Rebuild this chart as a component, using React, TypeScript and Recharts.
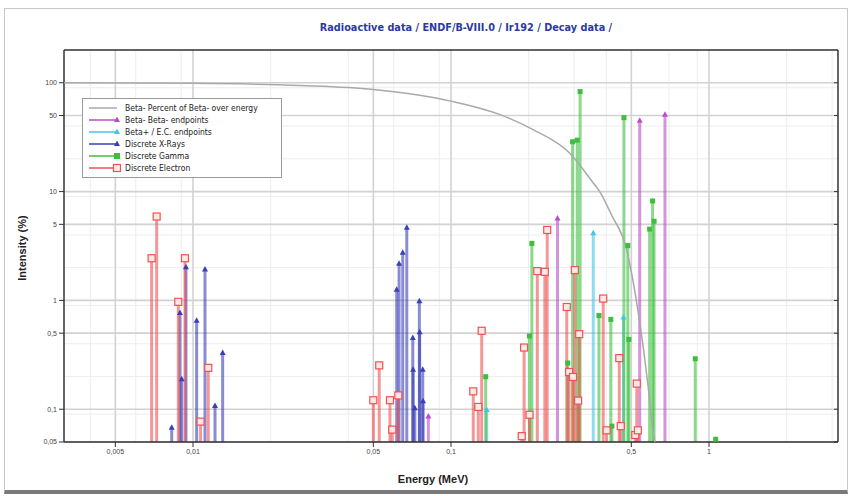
import React from 'react';
import { ComposedChart, Scatter, XAxis, YAxis, CartesianGrid, ErrorBar, Legend } from 'recharts';

const BASE = 0.05;
const X_MIN = Math.pow(10, -2.5);
const X_MAX = Math.pow(10, 0.5);

// Beta- percent over energy (gray curve)
const curveE = [0.00316, 0.01, 0.026, 0.05, 0.1, 0.155, 0.208, 0.288, 0.356, 0.377, 0.419, 0.478, 0.524, 0.557, 0.58, 0.61, 0.617];
const curveI = [99.8, 98.8, 94.4, 86.8, 67.8, 51, 37.1, 22.6, 12, 10, 6.1, 3.0, 0.97, 0.36, 0.166, 0.058, 0.05];

// Beta- endpoints
const betaMinusE = [0.0817, 0.2587, 0.5388, 0.6751];
const betaMinusI = [0.085, 5.6, 44.4, 50.4];

// Beta+ / E.C. endpoints
const betaPlusE = [0.1375, 0.356, 0.466];
const betaPlusI = [0.0975, 4.1, 0.69];

// Discrete X-rays
const xrayE = [0.00827, 0.0089, 0.00904, 0.00939, 0.01033, 0.01113, 0.01217, 0.01303, 0.0616, 0.0629, 0.065, 0.0674, 0.0711, 0.0713, 0.0724, 0.0754, 0.0756, 0.0777, 0.0779];
const xrayI = [0.067, 0.76, 0.187, 2.0, 0.645, 1.9, 0.106, 0.325, 1.24, 2.15, 2.71, 4.6, 0.447, 0.228, 0.101, 0.97, 0.504, 0.228, 0.117];

// Discrete gamma
const gammaE = [0.1363, 0.2013, 0.2058, 0.2833, 0.296, 0.3085, 0.3165, 0.3745, 0.4165, 0.4205, 0.4681, 0.4846, 0.4891, 0.5886, 0.6044, 0.6125, 0.8845, 1.0615];
const gammaI = [0.199, 0.471, 3.34, 0.266, 28.7, 29.7, 82.9, 0.726, 0.669, 0.07, 47.8, 3.19, 0.438, 4.52, 8.2, 5.34, 0.291, 0.053];

// Discrete electrons
const electronE = [0.00691, 0.00723, 0.00877, 0.00931, 0.0107, 0.01146, 0.05, 0.0527, 0.058, 0.0592, 0.0625, 0.122, 0.1276, 0.1315, 0.188, 0.192, 0.2015, 0.216, 0.231, 0.236, 0.281, 0.287, 0.297, 0.302, 0.311, 0.314, 0.389, 0.401, 0.449, 0.455, 0.518, 0.525, 0.53];
const electronI = [2.44, 5.9, 0.97, 2.44, 0.077, 0.24, 0.121, 0.253, 0.121, 0.065, 0.134, 0.146, 0.105, 0.526, 0.0566, 0.369, 0.089, 1.86, 1.83, 4.44, 0.87, 0.22, 0.198, 1.9, 0.12, 0.49, 1.04, 0.064, 0.295, 0.07, 0.058, 0.172, 0.064];

const xTicks = [0.005, 0.01, 0.05, 0.1, 0.5, 1];
const yTicks = [0.05, 0.1, 0.5, 1, 5, 10, 50, 100];
const xMinor = [0.004, 0.006, 0.007, 0.008, 0.009, 0.02, 0.03, 0.04, 0.06, 0.07, 0.08, 0.09, 0.2, 0.3, 0.4, 0.6, 0.7, 0.8, 0.9, 2, 3];
const yMinor = [0.06, 0.07, 0.08, 0.09, 0.2, 0.3, 0.4, 0.6, 0.7, 0.8, 0.9, 2, 3, 4, 6, 7, 8, 9, 20, 30, 40, 60, 70, 80, 90, 200];

const COLORS = {
  curve: '#a9a9a9',
  betaMinus: '#b94fc6',
  betaPlus: '#46c4e4',
  xray: '#3a3fb6',
  gamma: '#3dbf3d',
  electron: '#ef5252',
};

const FONT = "'Liberation Sans Narrow', 'DejaVu Sans Condensed', 'Liberation Sans', sans-serif";
const LABEL_FONT = "'Liberation Sans', Arial, sans-serif";

const stems = (e: number[], v: number[]) => e.map((x, i) => ({ e: x, v: v[i], stem: [v[i] - BASE, 0] }));
const curve = curveE.map((x, i) => ({ e: x, v: curveI[i] }));

const fmt = (n: number) => String(n).replace('.', ',');

const triangle = (color: string) => (p: any) => (
  <polygon points={`${p.cx},${p.cy - 4} ${p.cx - 3},${p.cy + 1.5} ${p.cx + 3},${p.cy + 1.5}`} fill={color} />
);
const filledSquare = (p: any) => <rect x={p.cx - 2.5} y={p.cy - 2.5} width={5} height={5} fill={COLORS.gamma} />;
const openSquare = (p: any) => (
  <rect x={p.cx - 3.5} y={p.cy - 3.5} width={7} height={7} fill="#ffe8e8" stroke={COLORS.electron} strokeWidth={1.2} />
);

const legendRows = [
  { name: 'Beta- Percent of Beta- over energy', color: COLORS.curve, mark: 'none' },
  { name: 'Beta- Beta- endpoints', color: COLORS.betaMinus, mark: 'tri' },
  { name: 'Beta+ / E.C. endpoints', color: COLORS.betaPlus, mark: 'tri' },
  { name: 'Discrete X-Rays', color: COLORS.xray, mark: 'tri' },
  { name: 'Discrete Gamma', color: COLORS.gamma, mark: 'square' },
  { name: 'Discrete Electron', color: COLORS.electron, mark: 'open' },
];

const LegendBox = () => (
  <div style={{ border: '1px solid #9a9a9a', background: '#fff', padding: '3px 4px', width: 190, fontFamily: FONT, fontSize: 8.5, color: '#222' }}>
    {legendRows.map((r) => (
      <div key={r.name} style={{ display: 'flex', alignItems: 'center', height: 12 }}>
        <svg width={34} height={10} style={{ marginRight: 4 }}>
          <line x1={2} y1={5} x2={30} y2={5} stroke={r.color} strokeWidth={1.5} />
          {r.mark === 'tri' && <polygon points="30,1.5 27,7 33,7" fill={r.color} />}
          {r.mark === 'square' && <rect x={27} y={2} width={6} height={6} fill={r.color} />}
          {r.mark === 'open' && <rect x={26.5} y={1.5} width={7} height={7} fill="#ffe8e8" stroke={r.color} strokeWidth={1.2} />}
        </svg>
        <span>{r.name}</span>
      </div>
    ))}
  </div>
);

const series = [
  { key: 'bm', e: betaMinusE, v: betaMinusI, color: COLORS.betaMinus, shape: triangle(COLORS.betaMinus) },
  { key: 'bp', e: betaPlusE, v: betaPlusI, color: COLORS.betaPlus, shape: triangle(COLORS.betaPlus) },
  { key: 'xr', e: xrayE, v: xrayI, color: COLORS.xray, shape: triangle(COLORS.xray) },
  { key: 'ga', e: gammaE, v: gammaI, color: COLORS.gamma, shape: filledSquare },
  { key: 'el', e: electronE, v: electronI, color: COLORS.electron, shape: openSquare },
];

const axisStroke = { stroke: '#333', strokeWidth: 1.5 };
const tickStyle = { fill: '#444', fontSize: 7, fontFamily: 'Liberation Sans, sans-serif' };

export default function App() {
  return (
    <div style={{ position: 'absolute', left: 0, top: 0, width: 852, height: 496, background: '#fff', overflow: 'hidden' }}>
      <div style={{ position: 'absolute', left: 4, top: 8, width: 842, height: 481, border: '1px solid #c8c8c8', borderBottom: '4px solid #7a7a7a' }} />
      <div style={{ position: 'absolute', left: 466, top: 21, transform: 'translateX(-50%)', whiteSpace: 'nowrap', color: '#2b3aa0', fontFamily: FONT, fontWeight: 'bold', fontSize: 10.8 }}>
        Radioactive data / ENDF/B-VIII.0 / Ir192 / Decay data /
      </div>
      <div style={{ position: 'absolute', left: 22, top: 248, transform: 'translate(-50%, -50%) rotate(-90deg)', whiteSpace: 'nowrap', fontFamily: LABEL_FONT, fontWeight: 'bold', fontSize: 11, color: '#222' }}>
        Intensity (%)
      </div>
      <div style={{ position: 'absolute', left: 433, top: 473, transform: 'translateX(-50%)', whiteSpace: 'nowrap', fontFamily: LABEL_FONT, fontWeight: 'bold', fontSize: 11, color: '#222' }}>
        Energy (MeV)
      </div>
      <div style={{ position: 'absolute', left: 0, top: 0 }}>
        <ComposedChart width={852} height={496} margin={{ top: 50, right: 14, bottom: 0, left: 0 }}>
          <CartesianGrid horizontalValues={yMinor} verticalValues={xMinor} stroke="#ededed" strokeWidth={1} fill="none" />
          <CartesianGrid horizontalValues={yTicks} verticalValues={xTicks} stroke="#d2d2d2" strokeWidth={1.6} fill="none" />
          <XAxis dataKey="e" type="number" scale="log" domain={[X_MIN, X_MAX]} allowDataOverflow ticks={xTicks} tickFormatter={fmt} height={54} axisLine={axisStroke} tickLine={{ stroke: '#333' }} tickSize={5} tick={tickStyle} />
          <XAxis xAxisId="top" orientation="top" type="number" scale="log" domain={[X_MIN, X_MAX]} allowDataOverflow ticks={xTicks} tickFormatter={() => ''} height={1} mirror tickSize={4} axisLine={axisStroke} tickLine={{ stroke: '#333' }} />
          <YAxis dataKey="v" type="number" scale="log" domain={[BASE, 200]} allowDataOverflow ticks={yTicks} tickFormatter={fmt} width={64} axisLine={axisStroke} tickLine={{ stroke: '#333' }} tickSize={5} tick={tickStyle} />
          <YAxis yAxisId="right" orientation="right" type="number" scale="log" domain={[BASE, 200]} allowDataOverflow ticks={yTicks} tickFormatter={() => ''} width={1} mirror tickSize={4} axisLine={axisStroke} tickLine={{ stroke: '#333' }} />
          <Legend layout="vertical" align="center" verticalAlign="middle" width={200} wrapperStyle={{ left: 82, top: 98, width: 200 }} content={() => <LegendBox />} />
          <Scatter
            name="curve"
            data={curve}
            line={{ stroke: COLORS.curve, strokeWidth: 1.5 }}
            lineJointType="monotoneX"
            shape={() => <g />}
            isAnimationActive={false}
          />
          {series.map((s) => (
            <Scatter key={s.key} name={s.key} data={stems(s.e, s.v)} shape={s.shape} isAnimationActive={false}>
              <ErrorBar dataKey="stem" direction="y" width={0} stroke={s.color} strokeWidth={3} strokeOpacity={0.6} isAnimationActive={false} />
            </Scatter>
          ))}
        </ComposedChart>
      </div>
    </div>
  );
}
